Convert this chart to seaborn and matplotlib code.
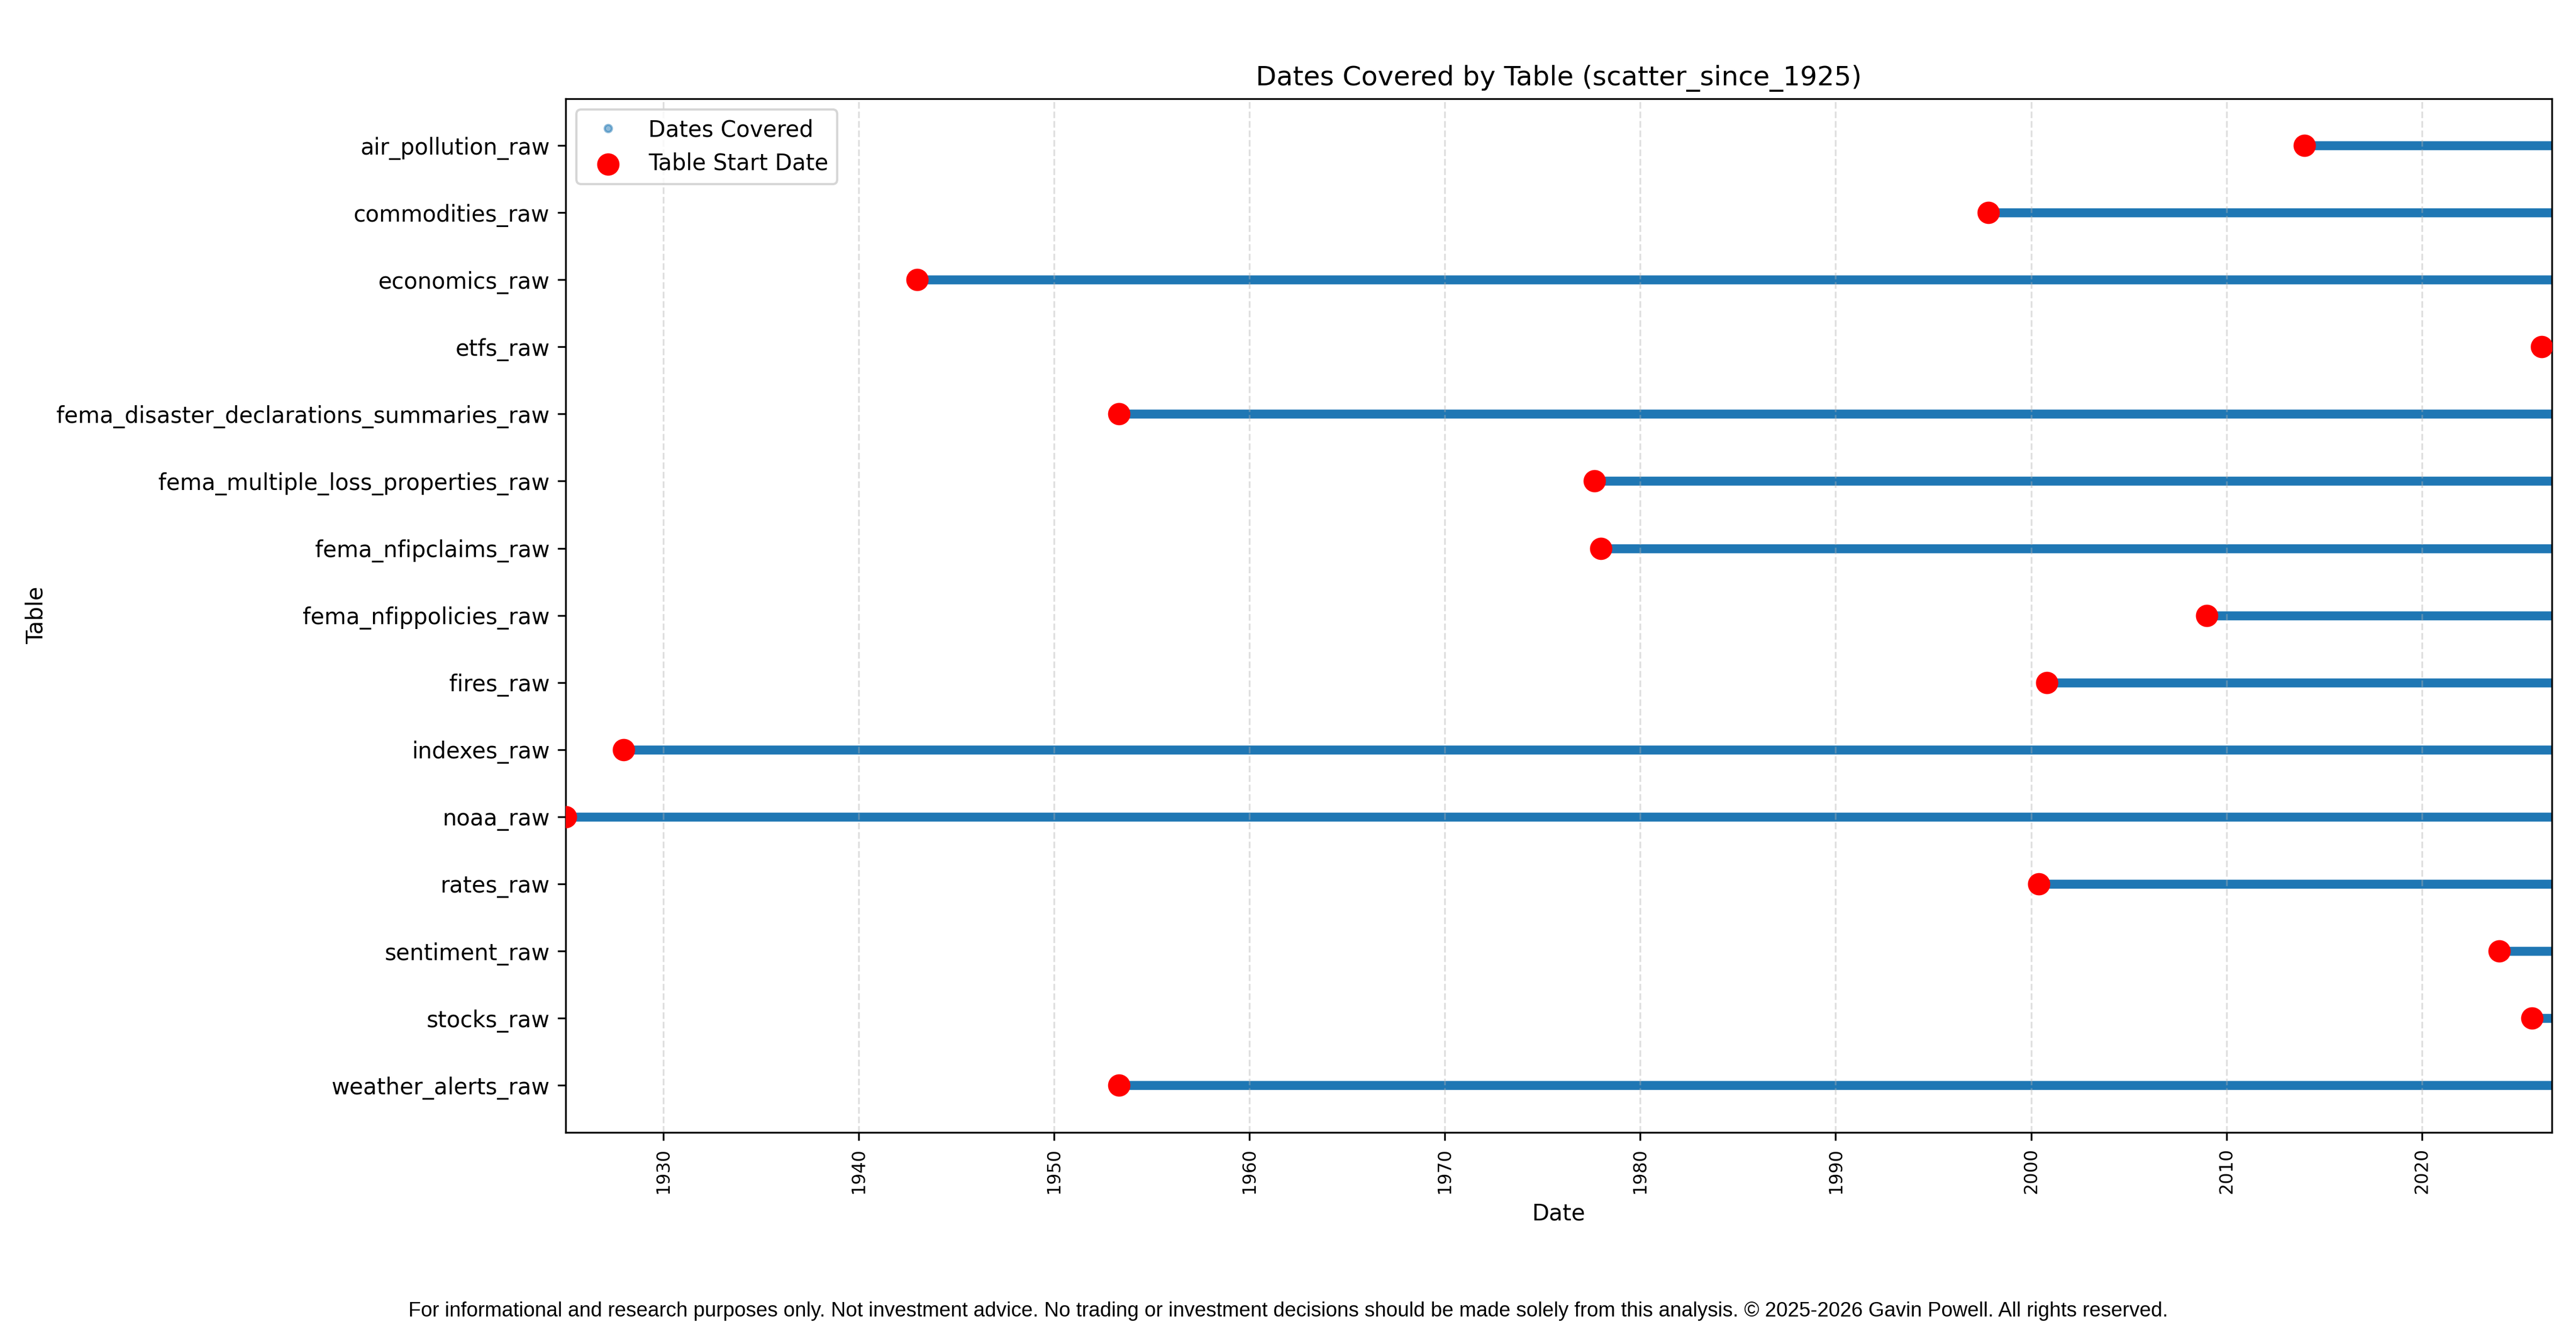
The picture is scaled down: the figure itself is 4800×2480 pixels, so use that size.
import matplotlib
matplotlib.use("Agg")
import matplotlib.pyplot as plt
import matplotlib.dates as mdates
from matplotlib.lines import Line2D
import pandas as pd
import seaborn as sns


tables = [
    "air_pollution_raw",
    "commodities_raw",
    "economics_raw",
    "etfs_raw",
    "fema_disaster_declarations_summaries_raw",
    "fema_multiple_loss_properties_raw",
    "fema_nfipclaims_raw",
    "fema_nfippolicies_raw",
    "fires_raw",
    "indexes_raw",
    "noaa_raw",
    "rates_raw",
    "sentiment_raw",
    "stocks_raw",
    "weather_alerts_raw",
]

start_dates = [
    "2014-01-01",
    "1997-10-23",
    "1943-01-01",
    "2026-02-17",
    "1953-05-03",
    "1977-08-28",
    "1978-01-01",
    "2009-01-01",
    "2000-10-27",
    "1927-12-26",
    "1925-01-01",
    "2000-05-26",
    "2023-12-13",
    "2025-08-20",
    "1953-05-03",
]

# every table is covered up to the latest load
end_dates = ["2026-08-25"] * len(tables)

title = "Dates Covered by Table (scatter_since_1925)"
footer = ("For informational and research purposes only. Not investment advice. "
          "No trading or investment decisions should be made solely from this analysis. "
          "\u00a9 2025-2026 Gavin Powell. All rights reserved.")


df = pd.DataFrame({
    "table": tables,
    "pos": range(len(tables)),
    "start": pd.to_datetime(start_dates),
    "end": pd.to_datetime(end_dates),
})

# long form: one row for the start and one for the end of each table
cov = pd.concat([
    df[["table", "pos", "start"]].rename(columns={"start": "date"}),
    df[["table", "pos", "end"]].rename(columns={"end": "date"}),
])

fig = plt.figure(figsize=(16, 8.2667), dpi=300)
ax = fig.add_axes([0.2195, 0.1493, 0.7711, 0.7767])

sns.lineplot(data=cov, x="date", y="pos", units="table", estimator=None,
             sort=False, color="#1f77b4", linewidth=4, zorder=1,
             legend=False, ax=ax)
sns.scatterplot(data=df, x="start", y="pos", color="red", s=100,
                linewidth=0, zorder=3, label="Table Start Date", ax=ax)

ax.set_xlim(df["start"].min(), df["end"].max())
ax.set_ylim(len(tables) - 1 + 0.7, -0.7)
ax.set_yticks(df["pos"])
ax.set_yticklabels(tables, fontsize=10)

ax.xaxis.set_major_locator(mdates.YearLocator(10))
ax.xaxis.set_major_formatter(mdates.DateFormatter("%Y"))
plt.setp(ax.get_xticklabels(), rotation=90, fontsize=8)

ax.grid(axis="x", linestyle="--", alpha=0.4)
ax.grid(axis="y", visible=False)

ax.set_title(title, fontsize=12)
ax.set_xlabel("Date", fontsize=10)
ax.set_ylabel("Table", fontsize=10)

h, l = ax.get_legend_handles_labels()
dot = Line2D([], [], marker="o", linestyle="", color="#1f77b4",
             markersize=3.2, alpha=0.5)
ax.legend(handles=[dot] + h, labels=["Dates Covered"] + l,
          loc="upper left", fontsize=10)

fig.text(0.5, 0.015, footer, ha="center", va="center", fontsize=9.15,
         family=["Liberation Sans", "DejaVu Sans"])

fig.savefig("out.png", dpi=300)
